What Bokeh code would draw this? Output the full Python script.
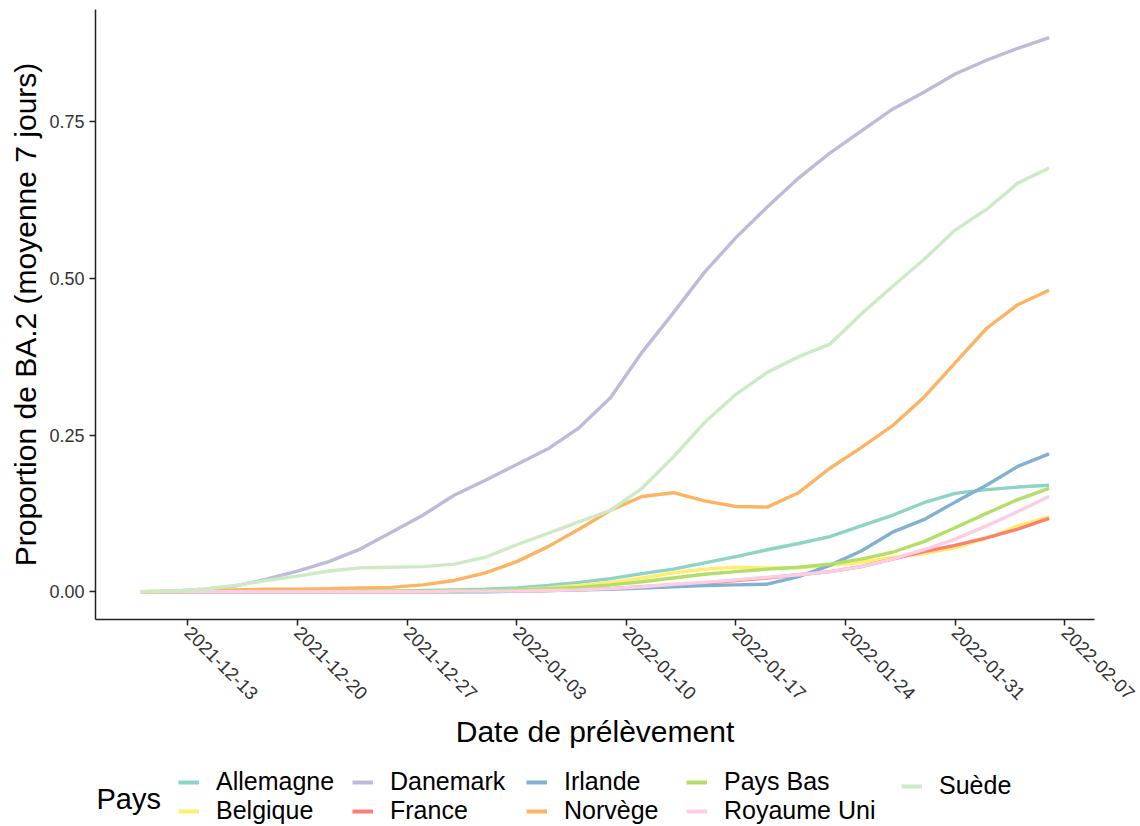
import pandas as pd
from bokeh.plotting import figure
from bokeh.layouts import column
from bokeh.models import (Legend, LegendItem, Label, FixedTicker, DatetimeTickFormatter,
                          Range1d, NumeralTickFormatter)
from bokeh.embed import file_html
from bokeh.resources import INLINE
from math import pi

# ---- data (every 2 days, 2021-12-10 .. 2022-02-06) ----
dates = pd.date_range("2021-12-10", "2022-02-06", freq="2D")

allemagne = [0, 0, 0, 0.0005, 0.001, 0.001, 0.001, 0.001, 0.001, 0.002, 0.003, 0.004, 0.006, 0.010, 0.015,
             0.021, 0.029, 0.036, 0.046, 0.056, 0.067, 0.077, 0.088, 0.105, 0.122, 0.142, 0.157, 0.163, 0.167, 0.170]
belgique = [0, 0, 0, 0, 0, 0, 0, 0, 0, 0, 0, 0.001, 0.003, 0.006, 0.010,
            0.015, 0.022, 0.030, 0.036, 0.039, 0.038, 0.038, 0.042, 0.047, 0.055, 0.061, 0.070, 0.085, 0.105, 0.120]
danemark = [0, 0.001, 0.004, 0.009, 0.020, 0.033, 0.048, 0.068, 0.095, 0.122, 0.154, 0.178, 0.203, 0.228, 0.262,
            0.310, 0.382, 0.445, 0.510, 0.565, 0.614, 0.660, 0.700, 0.735, 0.770, 0.797, 0.826, 0.848, 0.867, 0.884]
france = [0, 0, 0, 0, 0, 0, 0, 0, 0, 0, 0.001, 0.001, 0.001, 0.002, 0.003,
          0.005, 0.008, 0.011, 0.014, 0.018, 0.022, 0.027, 0.032, 0.040, 0.052, 0.064, 0.074, 0.086, 0.100, 0.117]
irlande = [0, 0, 0, 0, 0, 0, 0, 0, 0, 0, 0, 0, 0.001, 0.002, 0.003,
           0.004, 0.006, 0.008, 0.010, 0.011, 0.012, 0.024, 0.042, 0.065, 0.095, 0.115, 0.143, 0.170, 0.200, 0.220]
norvege = [0, 0.001, 0.002, 0.003, 0.004, 0.004, 0.005, 0.006, 0.007, 0.011, 0.018, 0.030, 0.048, 0.072, 0.100,
           0.130, 0.152, 0.158, 0.145, 0.136, 0.135, 0.158, 0.197, 0.230, 0.265, 0.310, 0.365, 0.420, 0.458, 0.481]
pays_bas = [0, 0, 0, 0, 0, 0, 0, 0.001, 0.001, 0.001, 0.002, 0.002, 0.003, 0.005, 0.007,
            0.011, 0.016, 0.022, 0.028, 0.032, 0.036, 0.039, 0.044, 0.052, 0.063, 0.080, 0.102, 0.125, 0.147, 0.165]
royaume_uni = [0, 0, 0, 0, 0, 0, 0, 0, 0, 0, 0.001, 0.001, 0.001, 0.002, 0.003,
               0.005, 0.008, 0.012, 0.015, 0.019, 0.023, 0.027, 0.032, 0.040, 0.052, 0.067, 0.084, 0.105, 0.128, 0.152]
suede = [0, 0.001, 0.004, 0.010, 0.018, 0.025, 0.033, 0.038, 0.039, 0.040, 0.044, 0.055, 0.075, 0.093, 0.112,
         0.130, 0.165, 0.215, 0.270, 0.315, 0.350, 0.375, 0.395, 0.443, 0.487, 0.530, 0.577, 0.610, 0.652, 0.676]

countries = ["Allemagne", "Belgique", "Danemark", "France", "Irlande", "Norvège", "Pays Bas", "Royaume Uni", "Suède"]
series = [allemagne, belgique, danemark, france, irlande, norvege, pays_bas, royaume_uni, suede]
colors = ["#8DD3C7", "#FFED6F", "#BEBADA", "#FB8072", "#80B1D3", "#FDB462", "#B3DE69", "#FCCDE5", "#CCEBC5"]

x_tick_labels = ["2021-12-13", "2021-12-20", "2021-12-27", "2022-01-03", "2022-01-10",
                 "2022-01-17", "2022-01-24", "2022-01-31", "2022-02-07"]
y_ticks = [0, 0.25, 0.5, 0.75]

FONT = "Liberation Sans"

def ms(ts):
    return pd.Timestamp(ts).value / 1e6

span = ms(dates[-1]) - ms(dates[0])
pad = span * 0.05

BL, BR, FW = 95, 44, 999
p = figure(x_axis_type="datetime", output_backend="svg", toolbar_location=None,
           frame_width=FW, frame_height=610,
           min_border_left=BL, min_border_top=9, min_border_right=BR, min_border_bottom=143,
           x_range=Range1d(ms(dates[0]) - pad, ms(dates[-1]) + pad),
           y_range=Range1d(-0.0443, 0.929))

for name, vals, col in zip(countries, series, colors):
    p.line(dates, vals, line_color=col, line_width=3.4)

p.grid.visible = False
p.outline_line_color = None
p.background_fill_color = "white"
p.border_fill_color = "white"

for ax in (p.xaxis[0], p.yaxis[0]):
    ax.axis_line_color = "#222222"
    ax.axis_line_width = 1.5
    ax.major_tick_line_color = "#222222"
    ax.major_tick_line_width = 1.5
    ax.major_tick_out = 6
    ax.major_tick_in = 0
    ax.minor_tick_line_color = None
    ax.major_label_text_font = FONT
    ax.major_label_text_color = "#333333"
    ax.axis_label_text_font = FONT
    ax.axis_label_text_font_style = "normal"
    ax.axis_label_text_font_size = "30px"
    ax.axis_label_text_color = "black"

xa = p.xaxis[0]
xa.ticker = FixedTicker(ticks=[ms(t) for t in x_tick_labels])
fmt = "%Y-%m-%d"
xa.formatter = DatetimeTickFormatter(days=fmt, months=fmt, hours=fmt, years=fmt, minutes=fmt)
xa.major_label_orientation = -pi / 4
xa.major_label_text_font_size = "18.5px"
xa.major_label_standoff = 4
xa.axis_label = "Date de prélèvement"
xa.axis_label_standoff = 6

ya = p.yaxis[0]
ya.ticker = FixedTicker(ticks=y_ticks)
ya.formatter = NumeralTickFormatter(format="0.00")
ya.major_label_text_font_size = "18px"
ya.major_label_standoff = 5
ya.axis_label = "Proportion de BA.2 (moyenne 7 jours)"
ya.axis_label_standoff = 4

# ---- legend strip (ggplot-style bottom legend, 2 rows, column-major) ----
W = BL + FW + BR
H = 62
leg = figure(output_backend="svg", toolbar_location=None, width=W, height=H,
             min_border=0, x_axis_location=None, y_axis_location=None,
             x_range=Range1d(0, FW), y_range=Range1d(0, H))
leg.grid.visible = False
leg.outline_line_color = None
leg.background_fill_color = "white"
leg.border_fill_color = "white"

nan = float("nan")
dummies = {n: leg.line([nan], [nan], line_color=c, line_width=4) for n, c in zip(countries, colors)}

legend_columns = [["Allemagne", "Belgique"], ["Danemark", "France"], ["Irlande", "Norvège"],
                  ["Pays Bas", "Royaume Uni"], ["Suède"]]
col_x = [83, 257, 431, 591, 806]
ITEM_H, SP = 32, -7
BOTTOM = -1
full_top = BOTTOM + 2 * ITEM_H + SP
for names, x0 in zip(legend_columns, col_x):
    n = len(names)
    h = n * ITEM_H + (n - 1) * SP
    lg = Legend(items=[LegendItem(label=nm, renderers=[dummies[nm]]) for nm in names],
                orientation="vertical",
                label_text_font=FONT, label_text_font_size="25px", label_text_color="black",
                label_height=22, glyph_height=22, glyph_width=21,
                label_standoff=17, spacing=SP, padding=0, margin=0,
                border_line_color=None, background_fill_alpha=0,
                location=(x0, full_top - h))
    leg.add_layout(lg, "center")

leg.add_layout(Label(x=1, y=26, text="Pays", text_font=FONT, text_font_size="29px",
                     text_baseline="middle", text_color="black"))

open("out.html", "w").write(file_html(column(p, leg, spacing=0), INLINE))
